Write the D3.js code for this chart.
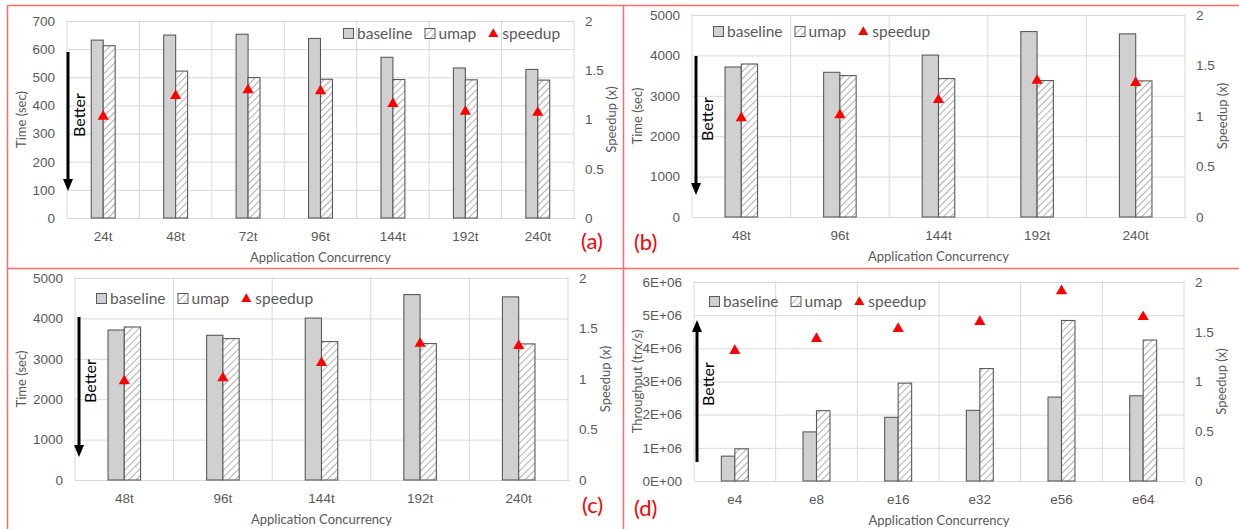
<!DOCTYPE html>
<html>
<head>
<meta charset="utf-8">
<script src="https://cdn.jsdelivr.net/npm/d3@7"></script>
<style>
  body { margin: 0; background: #fff; }
  svg { display: block; font-family: Lato, "Open Sans", sans-serif; }
</style>
</head>
<body>
<svg width="1239" height="529"></svg>
<script>
// ---- data ----
const catsA = ["24t", "48t", "72t", "96t", "144t", "192t", "240t"];
const baselineA = [632, 650, 653, 638, 571, 533, 528];
const umapA = [612, 522, 499, 493, 492, 491, 490];
const speedupA = [1.03, 1.24, 1.30, 1.29, 1.16, 1.08, 1.07];

// panels (b) and (c) show the same run
const catsB = ["48t", "96t", "144t", "192t", "240t"];
const baselineB = [3713, 3582, 4008, 4590, 4533];
const umapB = [3787, 3500, 3426, 3377, 3369];
const speedupB = [0.98, 1.01, 1.16, 1.35, 1.33];

const catsD = ["e4", "e8", "e16", "e32", "e56", "e64"];
const baselineD = [0.75e6, 1.48e6, 1.92e6, 2.13e6, 2.53e6, 2.57e6];
const umapD = [0.97e6, 2.12e6, 2.95e6, 3.39e6, 4.84e6, 4.25e6];
const speedupD = [1.31, 1.43, 1.53, 1.60, 1.91, 1.65];

const timeTicksA = [0, 100, 200, 300, 400, 500, 600, 700];
const timeTicksB = [0, 1000, 2000, 3000, 4000, 5000];
const thrTicks = [0, 1e6, 2e6, 3e6, 4e6, 5e6, 6e6];
const thrTickLabels = ["0E+00", "1E+06", "2E+06", "3E+06", "4E+06", "5E+06", "6E+06"];
const speedTicks = [0, 0.5, 1, 1.5, 2];

const svg = d3.select("svg");

const defs = svg.append("defs");
const hatch = defs.append("pattern")
  .attr("id", "hatch")
  .attr("patternUnits", "userSpaceOnUse")
  .attr("width", 5).attr("height", 5)
  .attr("patternTransform", "rotate(45)");
hatch.append("rect").attr("width", 5).attr("height", 5).attr("fill", "#fff");
hatch.append("line")
  .attr("x1", 0).attr("y1", 0).attr("x2", 0).attr("y2", 5)
  .attr("stroke", "#9a9a9a").attr("stroke-width", 1.6);

const gray = "#595959";
const gridCol = "#d9d9d9";
const barStroke = "#5a5a5a";
const red = "#ff0000";

const panels = [
  { cats: catsA, base: baselineA, umap: umapA, speed: speedupA,
    ticks: timeTicksA, tickFmt: d => d, yMax: 700, yTitle: "Time (sec)",
    left: 67, right: 574, top: 21, bottom: 218, ox: 7,
    legendX: 343, legendY: 33, arrow: "down", arrowX: 68, arrowA: 52, arrowB: 191,
    betterY: 115, tag: "(a)", tagX: 581, tagY: 249 },
  { cats: catsB, base: baselineB, umap: umapB, speed: speedupB,
    ticks: timeTicksB, tickFmt: d => d, yMax: 5000, yTitle: "Time (sec)",
    left: 692, right: 1185, top: 15, bottom: 217, ox: 623,
    legendX: 713, legendY: 31, arrow: "down", arrowX: 696, arrowA: 56, arrowB: 195,
    betterY: 119, tag: "(b)", tagX: 634, tagY: 250 },
  { cats: catsB, base: baselineB, umap: umapB, speed: speedupB,
    ticks: timeTicksB, tickFmt: d => d, yMax: 5000, yTitle: "Time (sec)",
    left: 75, right: 568, top: 278, bottom: 480, ox: 7,
    legendX: 96, legendY: 298, arrow: "down", arrowX: 79, arrowA: 317, arrowB: 457,
    betterY: 381, tag: "(c)", tagX: 582, tagY: 513 },
  { cats: catsD, base: baselineD, umap: umapD, speed: speedupD,
    ticks: thrTicks, tickFmt: (d, i) => thrTickLabels[i], yMax: 6e6, yTitle: "Throughput (trx/s)",
    left: 694, right: 1184, top: 282, bottom: 481, ox: 623,
    legendX: 709, legendY: 301, arrow: "up", arrowX: 697, arrowA: 462, arrowB: 320,
    betterY: 384, tag: "(d)", tagX: 634, tagY: 516 }
];

panels.forEach(drawPanel);

function drawPanel(p) {
  const g = svg.append("g");
  const x = d3.scaleBand().domain(p.cats).range([p.left, p.right]);
  const y = d3.scaleLinear().domain([0, p.yMax]).range([p.bottom, p.top]);
  const y2 = d3.scaleLinear().domain([0, 2]).range([p.bottom, p.top]);
  const bw = x.bandwidth() * 0.165;

  // horizontal gridlines
  g.append("g")
    .attr("transform", `translate(${p.left},0)`)
    .call(d3.axisLeft(y).tickValues(p.ticks).tickSize(-(p.right - p.left)).tickFormat(""))
    .call(a => a.select(".domain").remove())
    .call(a => a.selectAll("line").attr("stroke", gridCol));

  // vertical gridlines at category boundaries
  const bounds = p.cats.map(c => x(c)).concat([p.right]);
  g.append("g").selectAll("line").data(bounds).join("line")
    .attr("x1", d => d).attr("x2", d => d)
    .attr("y1", p.top - 1).attr("y2", p.bottom)
    .attr("stroke", gridCol);

  // left tick labels
  g.append("g")
    .attr("transform", `translate(${p.left - 3},0)`)
    .call(d3.axisLeft(y).tickValues(p.ticks).tickSize(0).tickPadding(9).tickFormat(p.tickFmt))
    .call(a => a.select(".domain").remove())
    .call(a => a.selectAll("text").attr("fill", gray).style("font-size", "13.5px").style("font-family", null));

  // right tick labels
  g.append("g")
    .attr("transform", `translate(${p.right + 2},0)`)
    .call(d3.axisRight(y2).tickValues(speedTicks).tickSize(0).tickPadding(9).tickFormat(d => d))
    .call(a => a.select(".domain").remove())
    .call(a => a.selectAll("text").attr("fill", gray).style("font-size", "13.5px").style("font-family", null));

  // category axis
  g.append("g")
    .attr("transform", `translate(0,${p.bottom})`)
    .call(d3.axisBottom(x).tickSize(0).tickPadding(13))
    .call(a => a.select(".domain").attr("stroke", gridCol).attr("d", `M${p.left},0.5H${p.right + 2}`))
    .call(a => a.selectAll("text").attr("fill", gray).style("font-size", "13.5px").style("font-family", null));

  // bars
  g.append("g").selectAll("rect").data(p.base).join("rect")
    .attr("x", (d, i) => x(p.cats[i]) + x.bandwidth() / 2 - bw)
    .attr("y", d => y(d))
    .attr("width", bw).attr("height", d => y(0) - y(d))
    .attr("fill", "#d0d0d0").attr("stroke", barStroke).attr("stroke-width", 1.1);
  g.append("g").selectAll("rect").data(p.umap).join("rect")
    .attr("x", (d, i) => x(p.cats[i]) + x.bandwidth() / 2)
    .attr("y", d => y(d))
    .attr("width", bw).attr("height", d => y(0) - y(d))
    .attr("fill", "url(#hatch)").attr("stroke", barStroke).attr("stroke-width", 1.1);

  // speedup markers
  const tri = d3.symbol(d3.symbolTriangle, 54);
  g.append("g").selectAll("path").data(p.speed).join("path")
    .attr("d", tri)
    .attr("transform", (d, i) => `translate(${x(p.cats[i]) + x.bandwidth() / 2},${y2(d)})`)
    .attr("fill", red);

  // axis titles
  const midY = (p.top + p.bottom) / 2;
  g.append("text")
    .attr("transform", `translate(${p.ox + 19},${midY}) rotate(-90)`)
    .attr("text-anchor", "middle").attr("fill", gray).style("font-size", "13px")
    .text(p.yTitle);
  g.append("text")
    .attr("transform", `translate(${p.right + 42},${midY}) rotate(-90)`)
    .attr("text-anchor", "middle").attr("fill", gray).style("font-size", "13px")
    .text("Speedup (x)");
  g.append("text")
    .attr("x", (p.left + p.right) / 2).attr("y", p.bottom + 44)
    .attr("text-anchor", "middle").attr("fill", gray).style("font-size", "13px")
    .text("Application Concurrency");

  // legend
  const lg = g.append("g").attr("transform", `translate(${p.legendX},${p.legendY})`);
  let cx = 0;
  [["baseline", "base"], ["umap", "umap"], ["speedup", "speed"]].forEach(([label, kind]) => {
    if (kind === "base") {
      lg.append("rect").attr("x", cx + 0.5).attr("y", -4.5).attr("width", 10).attr("height", 10)
        .attr("fill", "#d0d0d0").attr("stroke", barStroke);
    } else if (kind === "umap") {
      lg.append("rect").attr("x", cx + 0.5).attr("y", -4.5).attr("width", 10).attr("height", 10)
        .attr("fill", "url(#hatch)").attr("stroke", barStroke);
    } else {
      lg.append("path").attr("d", d3.symbol(d3.symbolTriangle, 44))
        .attr("transform", `translate(${cx + 5},1)`).attr("fill", red);
    }
    const t = lg.append("text").attr("x", cx + 14).attr("y", 6)
      .attr("fill", gray).style("font-size", "15.5px").text(label);
    cx += 14 + t.node().getComputedTextLength() + 12;
  });

  // "Better" arrow
  const dir = p.arrow === "down" ? 1 : -1;
  const head = 12;
  g.append("line")
    .attr("x1", p.arrowX).attr("x2", p.arrowX)
    .attr("y1", p.arrowA).attr("y2", p.arrowB - dir * head)
    .attr("stroke", "#000").attr("stroke-width", 3);
  g.append("path")
    .attr("d", `M${p.arrowX - 5},${p.arrowB - dir * head}L${p.arrowX + 5},${p.arrowB - dir * head}L${p.arrowX},${p.arrowB}Z`)
    .attr("fill", "#000");
  g.append("text")
    .attr("transform", `translate(${p.arrowX + 17},${p.betterY}) rotate(-90)`)
    .attr("text-anchor", "middle").attr("fill", "#000").style("font-size", "16px")
    .text("Better");

  // panel tag
  g.append("text")
    .attr("x", p.tagX).attr("y", p.tagY)
    .attr("fill", red).style("font-size", "22px")
    .text(p.tag);
}

// red frame lines between panels
const frame = [
  [7, 5.5, 1239, 5.5],
  [7, 268.5, 1239, 268.5],
  [7.5, 5, 7.5, 529],
  [623.5, 5, 623.5, 529]
];
svg.append("g").selectAll("line").data(frame).join("line")
  .attr("x1", d => d[0]).attr("y1", d => d[1])
  .attr("x2", d => d[2]).attr("y2", d => d[3])
  .attr("stroke", "#ff6b6b").attr("stroke-width", 1.5);
</script>
</body>
</html>
